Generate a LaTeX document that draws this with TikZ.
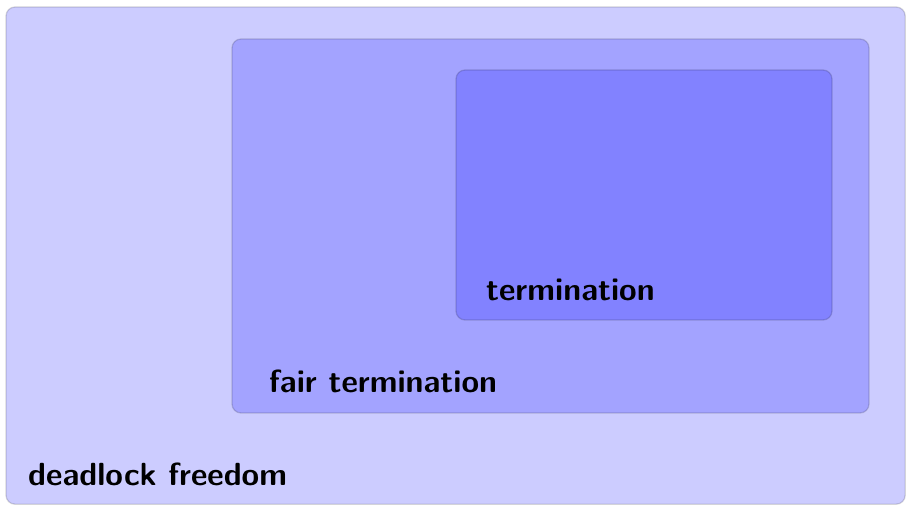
\documentclass[tikz,border=0pt]{standalone}
\begin{document}
\begin{tikzpicture}[x=1pt,y=1pt,
  setbox/.style={fill=blue, fill opacity=0.2, draw=black, draw opacity=0.15, line width=1.3pt, rounded corners=9pt},
  setlabel/.style={anchor=base west, inner sep=0pt, text opacity=1, font=\sffamily\bfseries\fontsize{32}{38}\selectfont}]
\useasboundingbox (0,0) rectangle (906,505);
\path[setbox] (6,0.8) rectangle (905.2,498);
\path[setbox] (232,92) rectangle (869,466);
\path[setbox] (456,185) rectangle (832,435);
\node[setlabel] (dl) at (28,19) {deadlock freedom};
\node[setlabel] (ft) at (269,112) {fair termination};
\node[setlabel] (te) at (486,204) {termination};
\end{tikzpicture}
\end{document}
